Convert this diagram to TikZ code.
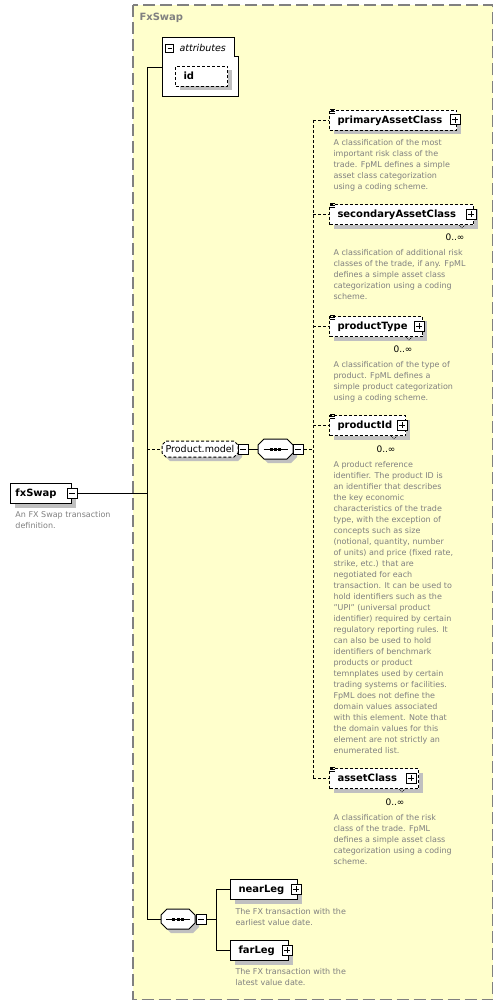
\documentclass[tikz,border=0pt]{standalone}
\usepackage{fontspec}
\setmainfont{DejaVu Sans}
\usetikzlibrary{shadows,calc}
\definecolor{bgy}{RGB}{255,255,204}
\definecolor{shd}{RGB}{192,192,192}
\definecolor{dsc}{RGB}{128,128,128}
\definecolor{frm}{RGB}{128,128,128}
\newcommand{\efont}{\fontsize{10}{12}\bfseries\selectfont}
\newcommand{\dfont}{\fontsize{8}{11}\selectfont}
\newcommand{\lbox}[2]{\makebox[#1pt][l]{\vphantom{Apy}#2}}
\newcommand{\octo}[5]{(#1+#5,#2)--(#3-#5,#2)--(#3,#2+#5)--(#3,#4-#5)--(#3-#5,#4)--(#1+#5,#4)--(#1,#4-#5)--(#1,#2+#5)--cycle}
\begin{document}
\begin{tikzpicture}[x=1pt,y=-1pt,line width=1pt,
  elem/.style={draw, fill=white, anchor=north west, minimum height=20pt, inner xsep=8pt, inner ysep=0pt, font=\efont,
    drop shadow={shadow xshift=4pt, shadow yshift=-4pt, fill=shd, draw=none, opacity=1}},
  opt/.style={dash pattern=on 3pt off 2pt},
  desc/.style={anchor=north west, align=left, font=\dfont, text=dsc, inner sep=0pt},
  mult/.style={font=\fontsize{9}{9}\selectfont, inner sep=0pt},
  icon/.style={draw, fill=white, minimum size=10pt, inner sep=0pt, line width=1pt},
  iminus/.style={icon, path picture={\draw[line width=1pt] ([xshift=2pt]path picture bounding box.west)--([xshift=-2pt]path picture bounding box.east);}},
  iplus/.style={icon, path picture={\draw[line width=1pt] ([xshift=2pt]path picture bounding box.west)--([xshift=-2pt]path picture bounding box.east) ([yshift=-2pt]path picture bounding box.north)--([yshift=2pt]path picture bounding box.south);}},
  eqmark/.pic={\draw[line width=0.6pt] (1,-0.5)--(6,-0.5) (1,1.5)--(6,1.5) (1,3.5)--(6,3.5);},
  notch/.pic={\draw[line width=0.6pt, dash pattern=on 1pt off 1pt] (-3,1)--(0,4)--(3,1);},
  seqsym/.pic={\draw[line width=1pt] (-12,0)--(12,0); \fill (-5.75,-1.5) rectangle (-2.75,1.5); \fill (-1.5,-1.5) rectangle (1.5,1.5); \fill (2.75,-1.5) rectangle (5.75,1.5);}
]
\useasboundingbox (0,0) rectangle (502,1006);
\fill[white] (0,0) rectangle (502,1006);
% outer frame
\draw[frm, line width=1.5pt, dash pattern=on 12pt off 5pt, fill=bgy] (133,5) rectangle (492.5,999.5);
\node[anchor=west, font=\fontsize{10}{12}\bfseries\selectfont, text=frm, inner sep=0pt] (title) at (139,18) {FxSwap};

% bus coordinates
\coordinate (b1t) at (147,68);
\coordinate (b1p) at (147,449);
\coordinate (b1m) at (147,493);
\coordinate (b1b) at (147,919);
\coordinate (b2t) at (313,120);
\coordinate (b2m) at (313,449);
\coordinate (b2b) at (313,778);
\coordinate (b3t) at (216,889);
\coordinate (b3b) at (216,950);
\coordinate (attrw) at (162,68);

% connectors
\draw (b1t)--(b1b);
\draw (b1t)--(attrw);
\draw[opt] (b2t)--(b2b);
\draw (b3t)--(b3b);

% attributes
\draw[fill=white] (162,38)--(234,38)--(234,57)--(238,57)--(238,97)--(162,97)--cycle;
\node[iminus, minimum size=8pt] (attri) at (169.5,49) {};
\node[anchor=west, font=\fontsize{9.5}{11}\itshape\selectfont, inner sep=0pt] (attr) at (179,48) {attributes};
\node[elem, opt] (id) at (175,66) {\lbox{36}{id}};

% fxSwap root
\node[elem, inner xsep=5pt] (fx) at (10,483) {\lbox{51}{fxSwap}};
\node[iminus] (fxi) at (72,493) {};
\draw (fxi.east)--(b1m);
\node[desc] (dfx) at (15,511) {An FX Swap transaction\\definition.};

% Product.model
\fill[shd] \octo{166}{445}{242}{461}{4};
\draw[fill=white, opt] \octo{162}{441}{238}{457}{4};
\node[inner sep=0pt, minimum width=76pt, minimum height=16pt, font=\fontsize{9.5}{11}\selectfont] (pm) at (200,449) {Product.model};
\node[iminus] (pmi) at (243,449) {};
\draw[opt] (b1p)--(pm.west);

% sequence 1
\fill[shd] \octo{262}{443}{297}{463}{6};
\draw[fill=white] \octo{258}{439}{293}{459}{6};
\node[inner sep=0pt, minimum width=35pt, minimum height=20pt] (seq1) at (275.5,449) {};
\pic at (seq1.center) {seqsym};
\node[iminus] (seq1i) at (298,449) {};
\draw (pmi.east)--(seq1.west);
\draw[opt] (seq1i.east)--(b2m);

% children of sequence 1
\node[elem, opt] (pac) at (329,110) {\lbox{111}{primaryAssetClass}};
\pic at (pac.north west) {eqmark};
\node[iplus] (paci) at (455,120) {};
\draw[opt] (pac.west -| b2t)--(pac.west);
\node[desc] (dpac) at (333,139) {A classification of the most\\important risk class of the\\trade. FpML defines a simple\\asset class categorization\\using a coding scheme.};

\node[elem, opt] (sac) at (329,204) {\lbox{128}{secondaryAssetClass}};
\pic at (sac.north west) {eqmark};
\node[iplus] (saci) at (471,214) {};
\draw[opt] (sac.west -| b2t)--(sac.west);
\pic at (462,224) {notch};
\node[mult] (msac) at (455,237) {0..∞};
\node[desc] (dsac) at (333,249) {A classification of additional risk\\classes of the trade, if any. FpML\\defines a simple asset class\\categorization using a coding\\scheme.};

\node[elem, opt] (pt) at (329,316) {\lbox{77}{productType}};
\pic at (pt.north west) {eqmark};
\node[iplus] (pti) at (419,326) {};
\draw[opt] (pt.west -| b2t)--(pt.west);
\pic at (409,336) {notch};
\node[mult] (mpt) at (403,349) {0..∞};
\node[desc] (dpt) at (333,361) {A classification of the type of\\product. FpML defines a\\simple product categorization\\using a coding scheme.};

\node[elem, opt] (pid) at (329,415) {\lbox{60}{productId}};
\pic at (pid.north west) {eqmark};
\node[iplus] (pidi) at (402,425) {};
\draw[opt] (pid.west -| b2t)--(pid.west);
\pic at (394,435) {notch};
\node[mult] (mpid) at (386,449) {0..∞};
\node[desc] (dpid) at (333,461) {A product reference\\identifier. The product ID is\\an identifier that describes\\the key economic\\characteristics of the trade\\type, with the exception of\\concepts such as size\\(notional, quantity, number\\of units) and price (fixed rate,\\strike, etc.) that are\\negotiated for each\\transaction. It can be used to\\hold identifiers such as the\\"UPI" (universal product\\identifier) required by certain\\regulatory reporting rules. It\\can also be used to hold\\identifiers of benchmark\\products or product\\temnplates used by certain\\trading systems or facilities.\\FpML does not define the\\domain values associated\\with this element. Note that\\the domain values for this\\element are not strictly an\\enumerated list.};

\node[elem, opt] (ac) at (329,768) {\lbox{73}{assetClass}};
\pic at (ac.north west) {eqmark};
\node[iplus] (aci) at (411,778) {};
\draw[opt] (ac.west -| b2t)--(ac.west);
\pic at (402,788) {notch};
\node[mult] (mac) at (395,802) {0..∞};
\node[desc] (dac) at (333,814) {A classification of the risk\\class of the trade. FpML\\defines a simple asset class\\categorization using a coding\\scheme.};

% sequence 2
\fill[shd] \octo{165}{913}{199}{933}{6};
\draw[fill=white] \octo{161}{909}{195}{929}{6};
\node[inner sep=0pt, minimum width=34pt, minimum height=20pt] (seq2) at (178,919) {};
\pic at (seq2.center) {seqsym};
\node[iminus] (seq2i) at (201,919) {};
\draw (b1b)--(seq2.west);
\draw (seq2i.east)--(seq2i.east -| b3t);

\node[elem] (near) at (230,879) {\lbox{51}{nearLeg}};
\node[iplus] (neari) at (296,889) {};
\draw (near.west -| b3t)--(near.west);
\node[desc] (dnear) at (235,908) {The FX transaction with the\\earliest value date.};

\node[elem] (far) at (230,940) {\lbox{42}{farLeg}};
\node[iplus] (fari) at (287,950) {};
\draw (far.west -| b3t)--(far.west);
\node[desc] (dfar) at (235,968) {The FX transaction with the\\latest value date.};
\end{tikzpicture}
\end{document}
